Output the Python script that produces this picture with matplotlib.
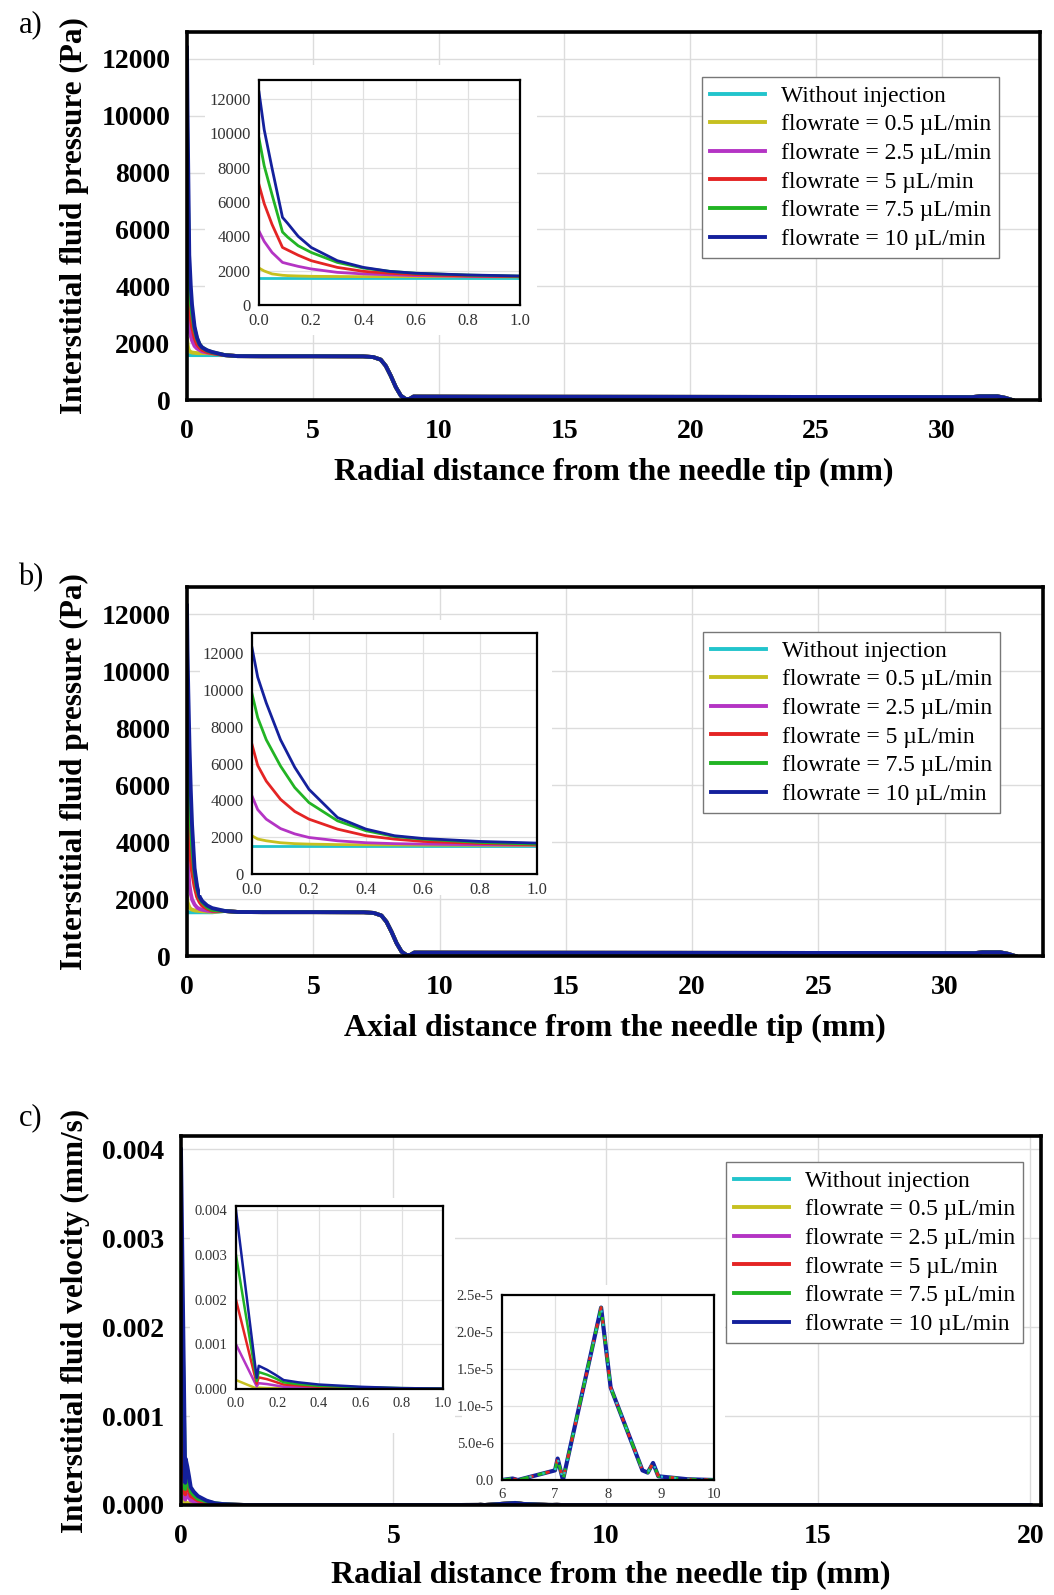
import matplotlib
matplotlib.use("Agg")
import matplotlib.pyplot as plt
from matplotlib.patches import Rectangle

plt.rcParams['font.family'] = ['Liberation Serif', 'DejaVu Serif']

labels = ['Without injection', 'flowrate = 0.5 µL/min', 'flowrate = 2.5 µL/min',
          'flowrate = 5 µL/min', 'flowrate = 7.5 µL/min', 'flowrate = 10 µL/min']
colors = ['#22c4cc', '#c6c020', '#b434c4', '#e42424', '#22b424', '#14209c']

# a) radial pressure near the tip (inset), Pa
xa_near = [0, 0.02, 0.05, 0.09, 0.11, 0.15, 0.2, 0.3, 0.4, 0.5, 0.6, 0.8, 1.0]
pa_none = [1580, 1580, 1580, 1580, 1580, 1580, 1580, 1580, 1580, 1580, 1580, 1580, 1580]
pa_05 = [2150, 1980, 1810, 1730, 1710, 1690, 1670, 1660, 1650, 1650, 1650, 1650, 1640]
pa_25 = [4300, 3700, 3060, 2480, 2400, 2250, 2100, 1900, 1810, 1760, 1710, 1670, 1650]
pa_5 = [7000, 5900, 4690, 3350, 3200, 2900, 2580, 2190, 1960, 1850, 1770, 1690, 1650]
pa_75 = [9700, 8100, 6420, 4250, 3950, 3450, 3060, 2480, 2150, 1960, 1850, 1740, 1680]
pa_10 = [12400, 10200, 7960, 5100, 4750, 4000, 3350, 2580, 2190, 1960, 1850, 1750, 1690]

# b) axial pressure near the tip (inset), Pa
xb_near = [0, 0.02, 0.05, 0.1, 0.15, 0.2, 0.3, 0.4, 0.5, 0.6, 0.8, 1.0]
pb_none = [1534, 1534, 1534, 1534, 1534, 1534, 1534, 1534, 1534, 1534, 1534, 1534]
pb_05 = [2075, 1900, 1805, 1700, 1650, 1625, 1600, 1590, 1580, 1570, 1560, 1550]
pb_25 = [4240, 3500, 2980, 2470, 2180, 1985, 1805, 1700, 1650, 1625, 1590, 1570]
pb_5 = [7040, 5900, 5050, 4060, 3400, 2980, 2440, 2080, 1895, 1770, 1660, 1590]
pb_75 = [9800, 8500, 7300, 5870, 4700, 3880, 2890, 2350, 2040, 1895, 1715, 1620]
pb_10 = [12300, 10700, 9300, 7300, 5800, 4600, 3070, 2440, 2080, 1930, 1770, 1680]

# far field pressure, same for every flowrate
x_far = [1.5, 2, 3, 5, 7, 7.4, 7.7, 7.9, 8.1, 8.3, 8.5, 8.7, 8.85, 9.0,
         12, 20, 28, 31.2, 31.5, 32.2, 32.5, 32.8]
p_far = [1580, 1545, 1540, 1540, 1535, 1510, 1420, 1200, 850, 450, 150, 30, 40, 120,
         115, 110, 105, 100, 130, 130, 80, 0]

# c) radial velocity near the tip (inset), mm/s
xc_near = [0, 0.1, 0.11, 0.15, 0.19, 0.23, 0.3, 0.4, 0.6, 0.8, 1.0]
vc_none = [0, 0, 0, 0, 0, 0, 0, 0, 0, 0, 0]
vc_05 = [0.0002, 0.00001, 0.00003, 0.00002, 0.00002, 0.00001, 0.00001, 0, 0, 0, 0]
vc_25 = [0.0010, 0.00006, 0.00013, 0.00011, 0.00008, 0.00005, 0.00004, 0.00003, 0.00002, 0.00001, 0]
vc_5 = [0.0020, 0.00012, 0.00026, 0.00022, 0.00016, 0.0001, 0.00008, 0.00005, 0.00003, 0.00001, 0.00001]
vc_75 = [0.0030, 0.00018, 0.00038, 0.00032, 0.00024, 0.00015, 0.00011, 0.00007, 0.00004, 0.00002, 0.00001]
vc_10 = [0.0040, 0.00025, 0.00052, 0.00043, 0.00032, 0.0002, 0.00015, 0.0001, 0.00005, 0.00002, 0.00001]

# velocity bump around the tumour boundary (second inset)
xv_far = [1.5, 6.0, 6.2, 6.3, 7.0, 7.05, 7.15, 7.87, 8.05, 8.65, 8.75, 8.85, 8.95, 9.5, 10, 20]
v_far = [0, 0, 2e-7, 0, 1.3e-6, 2.9e-6, 0, 2.33e-5, 1.25e-5, 1.3e-6, 1.0e-6, 2.3e-6, 5e-7, 1e-7, 0, 0]

pa_all = [pa_none, pa_05, pa_25, pa_5, pa_75, pa_10]
pb_all = [pb_none, pb_05, pb_25, pb_5, pb_75, pb_10]
vc_all = [vc_none, vc_05, vc_25, vc_5, vc_75, vc_10]

W, H = 1054, 1595
fig = plt.figure(figsize=(W / 100, H / 100), dpi=100)


def fbox(l, t, r, b):
    return [l / W, 1 - b / H, (r - l) / W, (b - t) / H]


def white_box(l, t, r, b):
    fig.patches.append(Rectangle((l / W, 1 - b / H), (r - l) / W, (b - t) / H,
                                 transform=fig.transFigure, facecolor='white',
                                 edgecolor='none', zorder=0.5))


def style_main(ax, xlabel, ylabel, xpad=10):
    for s in ax.spines.values():
        s.set_linewidth(2.6)
        s.set_color('black')
    ax.grid(True, color='#dcdcdc', linewidth=1)
    ax.set_axisbelow(True)
    ax.tick_params(length=0, labelsize=20, pad=12)
    ax.tick_params(axis='x', pad=14)
    for t in ax.get_xticklabels() + ax.get_yticklabels():
        t.set_fontweight('bold')
    ax.set_xlabel(xlabel, fontsize=23, fontweight='bold', labelpad=xpad)
    ax.set_ylabel(ylabel, fontsize=22.5, fontweight='bold', labelpad=9)


def style_inset(ax, size):
    for s in ax.spines.values():
        s.set_linewidth(1.6)
        s.set_color('black')
    ax.grid(True, color='#e0e0e0', linewidth=0.9)
    ax.set_axisbelow(True)
    ax.tick_params(length=0, labelsize=size, pad=6, colors='#333333')


def add_legend(ax, x, y):
    leg = ax.legend(loc='upper left', bbox_to_anchor=(x / W, 1 - y / H),
                    bbox_transform=fig.transFigure, fontsize=17, frameon=True,
                    fancybox=False, edgecolor='#777777', framealpha=1,
                    handlelength=2.3, labelspacing=0.3, borderpad=0.35,
                    handletextpad=0.7, borderaxespad=0)
    leg.get_frame().set_linewidth(1.0)


def pressure_panel(box, inset_box, wbox, x_near, p_all, xlabel, leg_xy):
    ax = fig.add_axes(fbox(*box))
    for p, c, lab in zip(p_all, colors, labels):
        ax.plot(list(x_near) + x_far, list(p) + p_far, color=c, linewidth=2.8, label=lab)
    ax.set_xlim(0, 33.9)
    ax.set_ylim(0, 12950)
    ax.set_xticks([0, 5, 10, 15, 20, 25, 30])
    ax.set_yticks([0, 2000, 4000, 6000, 8000, 10000, 12000])
    style_main(ax, xlabel, 'Interstitial fluid pressure (Pa)')
    add_legend(ax, *leg_xy)
    white_box(*wbox)
    ins = fig.add_axes(fbox(*inset_box), zorder=2)
    for p, c in zip(p_all, colors):
        ins.plot(x_near, p, color=c, linewidth=2.0)
    ins.set_xlim(0, 1.0)
    ins.set_ylim(0, 13100)
    ins.set_xticks([0, 0.2, 0.4, 0.6, 0.8, 1.0])
    ins.set_xticklabels(['0.0', '0.2', '0.4', '0.6', '0.8', '1.0'])
    ins.set_yticks([0, 2000, 4000, 6000, 8000, 10000, 12000])
    style_inset(ins, 12)
    return ax


pressure_panel((187, 32, 1040, 400), (259, 80, 520, 305), (205, 65, 537, 335),
               xa_near, pa_all, 'Radial distance from the needle tip (mm)', (702, 77))
pressure_panel((187, 587, 1043, 956), (252, 633, 537, 874), (200, 620, 552, 895),
               xb_near, pb_all, 'Axial distance from the needle tip (mm)', (703, 632))

# c) velocity panel
axc = fig.add_axes(fbox(181, 1136, 1041, 1505))
for v, c, lab in zip(vc_all, colors, labels):
    axc.plot(list(xc_near) + xv_far, list(v) + v_far, color=c, linewidth=2.8, label=lab)
axc.set_xlim(0, 20.25)
axc.set_ylim(0, 0.00415)
axc.set_xticks([0, 5, 10, 15, 20])
axc.set_yticks([0, 0.001, 0.002, 0.003, 0.004])
axc.set_yticklabels(['0.000', '0.001', '0.002', '0.003', '0.004'])
style_main(axc, 'Radial distance from the needle tip (mm)', 'Interstitial fluid velocity (mm/s)',
           xpad=8)
add_legend(axc, 726, 1162)

white_box(190, 1198, 455, 1433)
c1 = fig.add_axes(fbox(236, 1206, 443, 1389), zorder=2)
for v, c in zip(vc_all, colors):
    c1.plot(xc_near, v, color=c, linewidth=1.8)
c1.set_xlim(0, 1.0)
c1.set_ylim(0, 0.0041)
c1.set_xticks([0, 0.2, 0.4, 0.6, 0.8, 1.0])
c1.set_xticklabels(['0.0', '0.2', '0.4', '0.6', '0.8', '1.0'])
c1.set_yticks([0, 0.001, 0.002, 0.003, 0.004])
c1.set_yticklabels(['0.000', '0.001', '0.002', '0.003', '0.004'])
style_inset(c1, 10.5)

white_box(462, 1285, 725, 1500)
c2 = fig.add_axes(fbox(502, 1295, 714, 1480), zorder=2)
c2.plot(xv_far, v_far, color=colors[5], linewidth=3.0)
c2.plot(xv_far, v_far, color=colors[4], linewidth=2.2, dashes=(3, 3))
c2.plot(xv_far, v_far, color=colors[3], linewidth=2.0, dashes=(1.5, 4.5))
c2.plot(xv_far, v_far, color=colors[0], linewidth=1.6, dashes=(1.0, 5.0))
c2.set_xlim(6, 10)
c2.set_ylim(0, 2.5e-5)
c2.set_xticks([6, 7, 8, 9, 10])
c2.set_yticks([0, 5e-6, 1e-5, 1.5e-5, 2e-5, 2.5e-5])
c2.set_yticklabels(['0.0', '5.0e-6', '1.0e-5', '1.5e-5', '2.0e-5', '2.5e-5'])
style_inset(c2, 10.5)

fig.text(31 / W, 1 - 25 / H, 'a)', fontsize=22, ha='center', va='center')
fig.text(31 / W, 1 - 578 / H, 'b)', fontsize=22, ha='center', va='center')
fig.text(31 / W, 1 - 1118 / H, 'c)', fontsize=22, ha='center', va='center')

fig.savefig('out.png', dpi=100, facecolor='white')
